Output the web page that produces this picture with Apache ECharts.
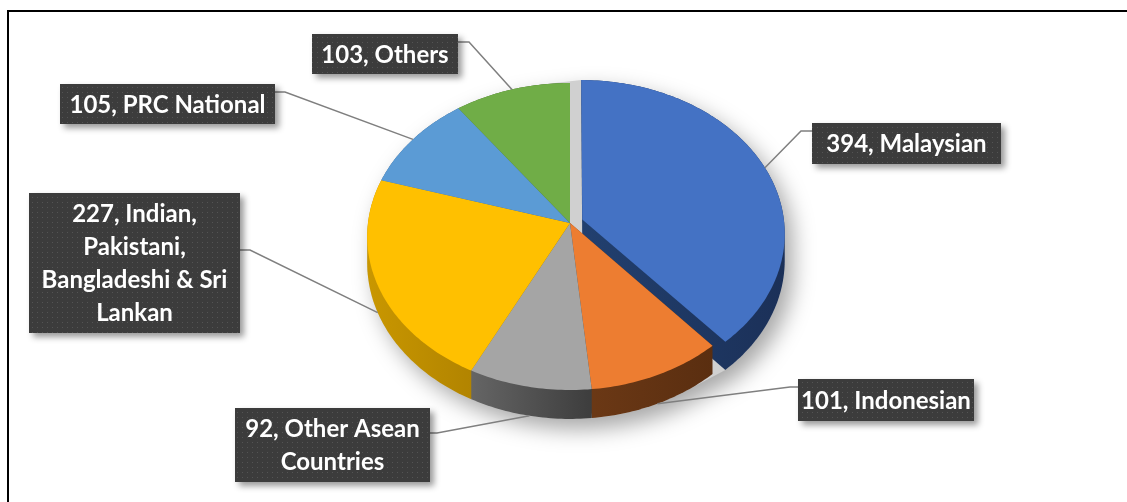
<!DOCTYPE html>
<html>
<head>
<meta charset="utf-8">
<script src="https://cdn.jsdelivr.net/npm/echarts@6/dist/echarts.min.js"></script>
<style>
  html, body { margin: 0; padding: 0; background: #fff; }
  #main { width: 1127px; height: 502px; }
</style>
</head>
<body>
<div id="main"></div>
<script>
// data
var categories = ['Malaysian', 'Indonesian', 'Other Asean Countries', 'Indian, Pakistani, Bangladeshi & Sri Lankan', 'PRC National', 'Others'];
var values = [394, 101, 92, 227, 105, 103];
// how each name wraps inside its label box
var labelNames = ['Malaysian', 'Indonesian', 'Other Asean\nCountries', 'Indian,\nPakistani,\nBangladeshi & Sri\nLankan', 'PRC National', 'Others'];

// styles
var topColors = ['#4472c4', '#ed7d31', '#a5a5a5', '#ffc000', '#5b9bd5', '#70ad47'];
var sideColors = [['#22406f', '#1b3058'], ['#6e3a16', '#5a2e10'], ['#656565', '#3d3d3d'], ['#c99700', '#9c7200'], ['#3d6e9c', '#2e5680'], ['#4f7a32', '#3e6127']];
var explode = [0.065, 0, 0, 0, 0, 0];

// label layout: box [x, y, w, h] and leader bend [x, y, attachX]
var labelBoxes = [[812, 123, 189, 41], [798, 379, 176, 42], [235, 408, 195, 74], [29, 193, 211, 140], [60, 84, 215, 40], [312, 34, 146, 40]];
var leaderBends = [[801, 131, 812], [790, 387, 798], [437, 433, 430], [250, 250, 240], [285, 92, 275], [469, 42, 458]];

// pie projection (perspective tilt)
var CX = 570, CY = 223, RX = 202, AY = 152.3, K = -0.088, DEPTH = 26.4;
function project(v, u, down) {
  var w = 1 + K * u;
  return [CX + RX * v / w, CY + (AY * u + (down ? DEPTH : 0)) / w];
}

function hull(pts) {
  var p = pts.slice().sort(function (a, b) { return a[0] - b[0] || a[1] - b[1]; });
  function cross(o, a, b) { return (a[0] - o[0]) * (b[1] - o[1]) - (a[1] - o[1]) * (b[0] - o[0]); }
  var lower = [], upper = [];
  p.forEach(function (q) {
    while (lower.length >= 2 && cross(lower[lower.length - 2], lower[lower.length - 1], q) <= 0) lower.pop();
    lower.push(q);
  });
  for (var i = p.length - 1; i >= 0; i--) {
    var q = p[i];
    while (upper.length >= 2 && cross(upper[upper.length - 2], upper[upper.length - 1], q) <= 0) upper.pop();
    upper.push(q);
  }
  upper.pop(); lower.pop();
  return lower.concat(upper);
}

var total = values.reduce(function (a, b) { return a + b; }, 0);

function slicePoints(i, down) {
  var start = 0;
  for (var j = 0; j < i; j++) start += values[j];
  var a0 = start / total * Math.PI * 2;
  var a1 = (start + values[i]) / total * Math.PI * 2;
  var mid = (a0 + a1) / 2;
  var ov = explode[i] * Math.sin(mid), ou = -explode[i] * Math.cos(mid);
  var steps = Math.ceil((a1 - a0) / (Math.PI / 180));
  var pts = [project(ov, ou, down)];
  for (var k = 0; k <= steps; k++) {
    var a = a0 + (a1 - a0) * k / steps;
    pts.push(project(ov + Math.sin(a), ou - Math.cos(a), down));
  }
  var um = -Math.cos(mid);
  return { pts: pts, mid: mid, anchor: project(ov + Math.sin(mid), ou + um, um > 0.2) };
}

var pat = document.createElement('canvas');
pat.width = 5; pat.height = 5;
var g = pat.getContext('2d');
g.fillStyle = '#3c3c3c'; g.fillRect(0, 0, 5, 5);
g.fillStyle = '#545454'; g.fillRect(2, 2, 1, 1);

var myChart = echarts.init(document.getElementById('main'));
myChart.setOption({
  animation: false,
  graphic: [{
    type: 'rect', silent: true,
    shape: { x: 8, y: 11, width: 1200, height: 600 },
    style: { fill: null, stroke: '#000', lineWidth: 2 }
  }],
  series: [{
    type: 'custom',
    coordinateSystem: 'none',
    silent: true,
    data: values.map(function (v, i) { return { name: categories[i], value: [i, v] }; }),
    renderItem: function (params, api) {
      var i = api.value(0);
      var top = slicePoints(i, false);
      var bottom = slicePoints(i, true);
      var children = [];
      if (i === 0) {
        var all = [];
        values.forEach(function (v, j) { all = all.concat(slicePoints(j, false).pts, slicePoints(j, true).pts); });
        children.push({
          type: 'polygon', z2: 0,
          shape: { points: hull(all) },
          style: { fill: '#d0d0d0', shadowBlur: 22, shadowOffsetX: 8, shadowOffsetY: 10, shadowColor: 'rgba(0,0,0,0.35)' }
        });
      }
      children.push({
        type: 'polygon', z2: 1 + Math.round(-Math.cos(top.mid) * 2 + 2),
        shape: { points: hull(top.pts.concat(bottom.pts)) },
        style: { fill: { type: 'linear', x: 0, y: 0, x2: 1, y2: 0, colorStops: [{ offset: 0, color: sideColors[i][0] }, { offset: 1, color: sideColors[i][1] }] } }
      });
      children.push({
        type: 'polygon', z2: 6,
        shape: { points: top.pts },
        style: { fill: topColors[i] }
      });
      var b = labelBoxes[i], lb = leaderBends[i];
      children.push({
        type: 'polyline', z2: 8,
        shape: { points: [top.anchor, [lb[0], lb[1]], [lb[2], lb[1]]] },
        style: { fill: null, stroke: '#7f7f7f', lineWidth: 1.5 }
      });
      children.push({
        type: 'rect', z2: 10,
        shape: { x: b[0], y: b[1], width: b[2], height: b[3] },
        style: { fill: { image: pat, repeat: 'repeat' }, shadowBlur: 6, shadowOffsetX: 4, shadowOffsetY: 4, shadowColor: 'rgba(0,0,0,0.4)' }
      });
      children.push({
        type: 'text', z2: 12,
        style: {
          text: api.value(1) + ', ' + labelNames[i],
          x: b[0] + b[2] / 2, y: b[1] + b[3] / 2 + 1,
          align: 'center', verticalAlign: 'middle',
          fill: '#ffffff', fontFamily: 'Lato', fontWeight: 'bold', fontSize: 24, lineHeight: 33
        }
      });
      return { type: 'group', children: children };
    }
  }]
});
</script>
</body>
</html>
